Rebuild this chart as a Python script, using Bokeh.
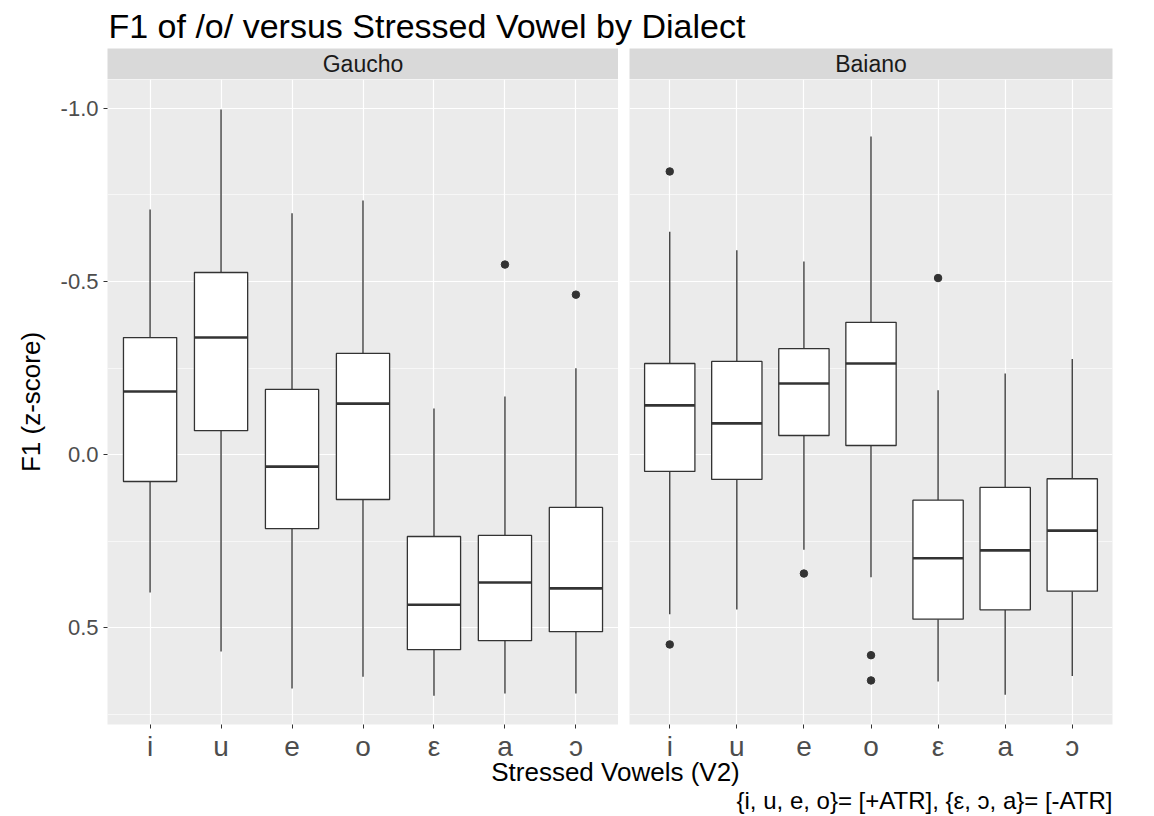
from bokeh.plotting import figure
from bokeh.layouts import column, row
from bokeh.models import (Range1d, FactorRange, FixedTicker, Grid, Label,
                          ColumnDataSource)
from bokeh.transform import dodge
from bokeh.embed import file_html
from bokeh.resources import INLINE

# ---- data: F1 (z-score) of /o/ by stressed vowel, per dialect ----
vowels = ["i", "u", "e", "o", "ε", "a", "ɔ"]

gaucho_whisker_min = [-0.708, -0.997, -0.697, -0.734, -0.133, -0.168, -0.249]
gaucho_q1 = [-0.338, -0.526, -0.188, -0.292, 0.237, 0.234, 0.153]
gaucho_median = [-0.182, -0.338, 0.035, -0.147, 0.434, 0.370, 0.387]
gaucho_q3 = [0.078, -0.069, 0.214, 0.130, 0.564, 0.538, 0.512]
gaucho_whisker_max = [0.399, 0.569, 0.676, 0.642, 0.697, 0.691, 0.691]
gaucho_outlier_vowel = ["a", "ɔ"]
gaucho_outlier_value = [-0.549, -0.462]

baiano_whisker_min = [-0.644, -0.590, -0.558, -0.919, -0.186, -0.234, -0.276]
baiano_q1 = [-0.263, -0.269, -0.306, -0.382, 0.132, 0.095, 0.070]
baiano_median = [-0.142, -0.090, -0.205, -0.263, 0.300, 0.277, 0.220]
baiano_q3 = [0.049, 0.072, -0.055, -0.026, 0.476, 0.449, 0.395]
baiano_whisker_max = [0.462, 0.448, 0.275, 0.355, 0.656, 0.694, 0.640]
baiano_outlier_vowel = ["i", "i", "e", "o", "o", "ε"]
baiano_outlier_value = [-0.818, 0.549, 0.344, 0.580, 0.653, -0.510]

y_ticks = [-1.0, -0.5, 0.0, 0.5]
y_minor_ticks = [-0.75, -0.25, 0.25, 0.75]

FONT = "Liberation Sans"
INK = "#333333"
W, H = 1154, 816
TOP_H = 48
STRIP_H = 31
PANEL_H = 645
BOTTOM_AXIS = 54
OVERLAP = 30
BASELINE_SHIFT = 10  # Label baselines sit a little low; lift them by this much

# y axis is reversed: larger z-scores toward the bottom
y_range = Range1d(start=0.7803, end=-1.0838)


def base_figure(**kw):
    f = figure(title=None, toolbar_location=None, output_backend="svg", **kw)
    f.outline_line_color = None
    f.border_fill_color = "white"
    return f


def blank(width, height, **kw):
    f = base_figure(width=width, height=height, x_range=Range1d(0, width),
                    y_range=Range1d(0, height), min_border=0,
                    x_axis_location=None, y_axis_location=None, **kw)
    f.background_fill_color = "white"
    for g in f.grid:
        g.visible = False
    return f


def strip(name, frame_w, left, right):
    s = base_figure(x_range=Range1d(0, 1), y_range=Range1d(0, 1),
                    frame_width=frame_w, frame_height=STRIP_H,
                    min_border_left=left, min_border_right=right,
                    min_border_top=0, min_border_bottom=0,
                    x_axis_location=None, y_axis_location=None)
    s.background_fill_color = "#D9D9D9"
    for g in s.grid:
        g.visible = False
    s.add_layout(Label(x=0.5, y=0.5, text=name, text_align="center",
                       text_baseline="middle", text_font=FONT,
                       text_font_size="23px", text_color="#1A1A1A"))
    return s


def panel(stats, out_vowel, out_value, frame_w, left, right, with_y_axis):
    # 0.6 of a category step between the outer boxes and the panel edge
    p = base_figure(x_range=FactorRange(factors=vowels, range_padding=0.1,
                                        range_padding_units="absolute"),
                    y_range=y_range, frame_width=frame_w, frame_height=PANEL_H,
                    min_border_left=left, min_border_right=right,
                    min_border_top=0, min_border_bottom=BOTTOM_AXIS,
                    y_axis_location="left" if with_y_axis else None)
    p.background_fill_color = "#EBEBEB"

    ticker = FixedTicker(ticks=y_ticks, minor_ticks=y_minor_ticks)
    if with_y_axis:
        ya = p.yaxis[0]
        ya.ticker = ticker
        ya.major_label_overrides = {t: f"{t:.1f}" for t in y_ticks}
        ya.axis_line_color = None
        ya.major_tick_line_color = INK
        ya.major_tick_out = 4
        ya.major_tick_in = 0
        ya.minor_tick_line_color = None
        ya.major_label_standoff = 5
        ya.major_label_text_font = FONT
        ya.major_label_text_font_size = "22px"
        ya.major_label_text_color = "#4D4D4D"
        ya.axis_label = "F1 (z-score)"
        ya.axis_label_text_font = FONT
        ya.axis_label_text_font_size = "26px"
        ya.axis_label_text_font_style = "normal"
        ya.axis_label_text_color = "black"
        ya.axis_label_standoff = 12
        ygrids = list(p.ygrid)
    else:
        ygrids = list(p.ygrid)
        if not ygrids:
            g = Grid(dimension=1)
            p.add_layout(g)
            ygrids = [g]
        for g in ygrids:
            g.ticker = ticker
    for g in ygrids:
        g.grid_line_color = "white"
        g.grid_line_width = 1.2
        g.minor_grid_line_color = "white"
        g.minor_grid_line_width = 0.6

    p.xgrid.grid_line_color = "white"
    p.xgrid.grid_line_width = 1.2

    xa = p.xaxis[0]
    xa.axis_label = None
    xa.axis_line_color = None
    xa.major_tick_line_color = INK
    xa.major_tick_out = 4
    xa.major_tick_in = 0
    xa.major_label_standoff = 2
    xa.major_label_text_font = FONT
    xa.major_label_text_font_size = "28px"
    xa.major_label_text_color = "#4D4D4D"

    lo, q1, med, q3, hi = stats
    src = ColumnDataSource(dict(vowel=vowels, lo=lo, q1=q1, med=med, q3=q3, hi=hi))
    p.segment(x0="vowel", y0="lo", x1="vowel", y1="q1", source=src,
              line_color=INK, line_width=1.3)
    p.segment(x0="vowel", y0="q3", x1="vowel", y1="hi", source=src,
              line_color=INK, line_width=1.3)
    p.vbar(x="vowel", bottom="q1", top="q3", width=0.75, source=src,
           fill_color="white", line_color=INK, line_width=1.3)
    p.segment(x0=dodge("vowel", -0.375, range=p.x_range), y0="med",
              x1=dodge("vowel", 0.375, range=p.x_range), y1="med",
              source=src, line_color=INK, line_width=2.6)
    out = ColumnDataSource(dict(vowel=out_vowel, value=out_value))
    p.scatter(x="vowel", y="value", source=out, size=7.5,
              fill_color=INK, line_color=INK)
    return p


# left facet: frame 511 px, right facet: frame 483 px
gaucho = panel((gaucho_whisker_min, gaucho_q1, gaucho_median, gaucho_q3,
                gaucho_whisker_max), gaucho_outlier_vowel, gaucho_outlier_value,
               511, 107, 0, True)
baiano = panel((baiano_whisker_min, baiano_q1, baiano_median, baiano_q3,
                baiano_whisker_max), baiano_outlier_vowel, baiano_outlier_value,
               483, 11, 42, False)

strip_g = strip("Gaucho", 511, 107, 0)
strip_b = strip("Baiano", 483, 11, 42)

top = blank(W, TOP_H)
top.add_layout(Label(x=108, y=TOP_H - 35 + BASELINE_SHIFT,
                     text="F1 of /o/ versus Stressed Vowel by Dialect",
                     text_align="left", text_baseline="alphabetic",
                     text_font=FONT, text_font_size="34px", text_color="black"))

# transparent footer that slides up under the tick-label strip
bottom_top = TOP_H + STRIP_H + PANEL_H + BOTTOM_AXIS - OVERLAP
bottom_h = H - bottom_top
bottom = blank(W, bottom_h, margin=(-OVERLAP, 0, 0, 0))
bottom.background_fill_alpha = 0
bottom.border_fill_alpha = 0
bottom.add_layout(Label(x=615, y=bottom_h - (781 - bottom_top) + BASELINE_SHIFT,
                        text="Stressed Vowels (V2)",
                        text_align="center", text_baseline="alphabetic",
                        text_font=FONT, text_font_size="26px", text_color="black"))
bottom.add_layout(Label(x=1112, y=bottom_h - (810 - bottom_top) + BASELINE_SHIFT,
                        text="{i, u, e, o}= [+ATR], {ε, ɔ, a}= [-ATR]",
                        text_align="right", text_baseline="alphabetic",
                        text_font=FONT, text_font_size="24px", text_color="black"))

layout = column(top,
                row(column(strip_g, gaucho), column(strip_b, baiano)),
                bottom)

open("out.html", "w").write(file_html(layout, INLINE))
